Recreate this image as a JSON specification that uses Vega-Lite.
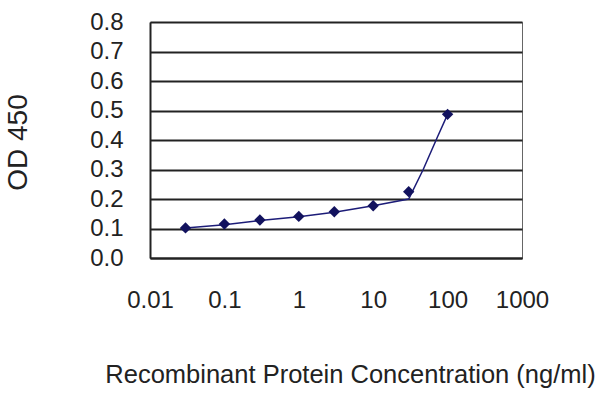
{
  "$schema": "https://vega.github.io/schema/vega-lite/v6.json",
  "width": 372,
  "height": 236,
  "autosize": {"type": "none"},
  "padding": {"left": 150, "top": 22, "right": 78, "bottom": 142},
  "background": "white",
  "config": {
    "view": {"stroke": "#666", "strokeWidth": 1},
    "font": "Liberation Sans"
  },
  "datasets": {
    "pts": [
      {"conc": 0.03, "od": 0.102},
      {"conc": 0.1, "od": 0.115},
      {"conc": 0.3, "od": 0.129},
      {"conc": 1, "od": 0.141},
      {"conc": 3, "od": 0.157},
      {"conc": 10, "od": 0.177},
      {"conc": 30, "od": 0.225},
      {"conc": 100, "od": 0.487}
    ],
    "curve": [
      {"conc": 0.03, "od": 0.102},
      {"conc": 0.1, "od": 0.113},
      {"conc": 0.3, "od": 0.127},
      {"conc": 1, "od": 0.14},
      {"conc": 3, "od": 0.155},
      {"conc": 10, "od": 0.177},
      {"conc": 30, "od": 0.2},
      {"conc": 47, "od": 0.3},
      {"conc": 73, "od": 0.41},
      {"conc": 100, "od": 0.487}
    ]
  },
  "encoding": {
    "x": {
      "field": "conc",
      "type": "quantitative",
      "scale": {"type": "log", "domain": [0.01, 1000], "nice": false},
      "axis": {
        "values": [0.01, 0.1, 1, 10, 100, 1000],
        "format": "~g",
        "title": "Recombinant Protein Concentration (ng/ml)",
        "titleFontSize": 25.5,
        "titleFontWeight": "normal",
        "titleColor": "#222",
        "titleX": 200,
        "titleY": 116,
        "titleAlign": "center",
        "titleBaseline": "middle",
        "labelFontSize": 24,
        "labelColor": "#222",
        "labelPadding": 30,
        "labelFlush": false,
        "labelOverlap": false,
        "ticks": false,
        "domainColor": "#222",
        "domainWidth": 2,
        "grid": false
      }
    },
    "y": {
      "field": "od",
      "type": "quantitative",
      "scale": {"domain": [0, 0.8], "nice": false},
      "axis": {
        "values": [0, 0.1, 0.2, 0.3, 0.4, 0.5, 0.6, 0.7, 0.8],
        "format": ".1f",
        "title": "OD 450",
        "titleFontSize": 28,
        "titleFontWeight": "normal",
        "titleColor": "#222",
        "titleX": -118,
        "titleY": 120,
        "labelFontSize": 24,
        "labelColor": "#222",
        "labelPadding": 27,
        "labelFlush": false,
        "labelOverlap": false,
        "ticks": false,
        "domainColor": "#222",
        "domainWidth": 2,
        "grid": true,
        "gridColor": "#222",
        "gridWidth": 2
      }
    }
  },
  "layer": [
    {
      "data": {"name": "curve"},
      "mark": {"type": "line", "color": "#1c1c78", "strokeWidth": 1.5}
    },
    {
      "data": {"name": "pts"},
      "mark": {"type": "point", "shape": "diamond", "filled": true, "size": 130, "color": "#12125e", "opacity": 1}
    },
    {
      "data": {"values": [{"conc": 0.1}, {"conc": 1}, {"conc": 10}, {"conc": 100}, {"conc": 1000}]},
      "mark": {"type": "tick", "orient": "vertical", "color": "#222", "thickness": 1.5, "size": 10},
      "encoding": {"y": {"datum": 0}}
    }
  ]
}
